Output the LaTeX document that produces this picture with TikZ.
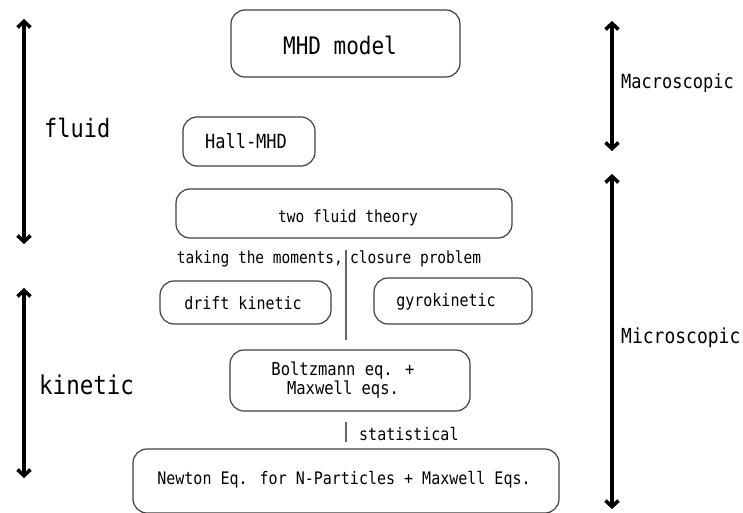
\documentclass[tikz,border=0pt]{standalone}
\usepackage{fontspec}
\setmainfont{DejaVu Sans Mono}
\usetikzlibrary{arrows.meta}
\newcommand{\tall}[1]{\scalebox{1}[1.15]{#1}}
\tikzset{
  box/.style={draw=black!75, line width=1.2pt, rounded corners=14pt, inner sep=0pt},
  bigarrow/.style={line width=3.8pt, {Straight Barb[length=6pt,width=13pt,line width=3.6pt]}-{Straight Barb[length=6pt,width=13pt,line width=3.6pt]}},
  sep/.style={draw=black!60, line width=1.4pt},
  lbl/.style={inner sep=0pt, anchor=west},
}
\begin{document}
\begin{tikzpicture}[x=1pt,y=-1pt]
\useasboundingbox[fill=white] (0,0) rectangle (743,513);
% boxes
\draw[box] (231,10) rectangle (460,77);
\node[inner sep=0pt] (mhd) at (340,45) {\fontsize{21}{24}\selectfont\tall{MHD model}};
\draw[box] (183,117) rectangle (315,166);
\node[inner sep=0pt] (hall) at (246,141) {\fontsize{17}{20}\selectfont\tall{Hall-MHD}};
\draw[box] (176,189) rectangle (512,238);
\node[inner sep=0pt] (two) at (348,218) {\fontsize{14.5}{17}\selectfont\tall{two fluid theory}};
\draw[box] (160,281) rectangle (331,324);
\node[inner sep=0pt] (drift) at (243,303) {\fontsize{15}{18}\selectfont\tall{drift kinetic}};
\draw[box] (374,278) rectangle (532,324);
\node[inner sep=0pt] (gyro) at (446,302) {\fontsize{15}{18}\selectfont\tall{gyrokinetic}};
\draw[box] (230,350) rectangle (470,411);
\node[inner sep=0pt, align=center] (boltz) at (343,380) {\fontsize{15.5}{20}\selectfont\tall{Boltzmann eq. +}\\ \fontsize{15.5}{20}\selectfont\tall{Maxwell eqs.}};
\draw[box] (133,449) rectangle (559,513);
\node[inner sep=0pt] (newton) at (344,480) {\fontsize{15}{18}\selectfont\tall{Newton Eq. for N-Particles + Maxwell Eqs.}};
% separators and labels
\coordinate (s1) at (346,250);
\coordinate (s2) at (346,340);
\draw[sep] (s1) -- (s2);
\node[inner sep=0pt, anchor=east] (tak) at (343,259) {\fontsize{14.5}{17}\selectfont\tall{taking the moments,}};
\node[lbl] (clo) at (350,259) {\fontsize{14.5}{17}\selectfont\tall{closure problem}};
\coordinate (s3) at (346,422);
\coordinate (s4) at (346,442);
\draw[sep] (s3) -- (s4);
\node[lbl] (stat) at (359,434) {\fontsize{15}{18}\selectfont\tall{statistical}};
% big arrows
\coordinate (f1) at (24,19);
\coordinate (f2) at (24,244);
\draw[bigarrow] (f1) -- (f2);
\node[lbl] (fluid) at (44,128) {\fontsize{22}{26}\selectfont\tall{fluid}};
\coordinate (k1) at (24,288);
\coordinate (k2) at (24,478);
\draw[bigarrow] (k1) -- (k2);
\node[lbl] (kin) at (39,385) {\fontsize{22.5}{26}\selectfont\tall{kinetic}};
\coordinate (m1) at (612,21);
\coordinate (m2) at (612,151);
\draw[bigarrow] (m1) -- (m2);
\node[lbl] (mac) at (621,83) {\fontsize{17}{20}\selectfont\tall{Macroscopic}};
\coordinate (n1) at (612,174);
\coordinate (n2) at (612,509);
\draw[bigarrow] (n1) -- (n2);
\node[lbl] (mic) at (621,338) {\fontsize{18}{21}\selectfont\tall{Microscopic}};
\end{tikzpicture}
\end{document}
